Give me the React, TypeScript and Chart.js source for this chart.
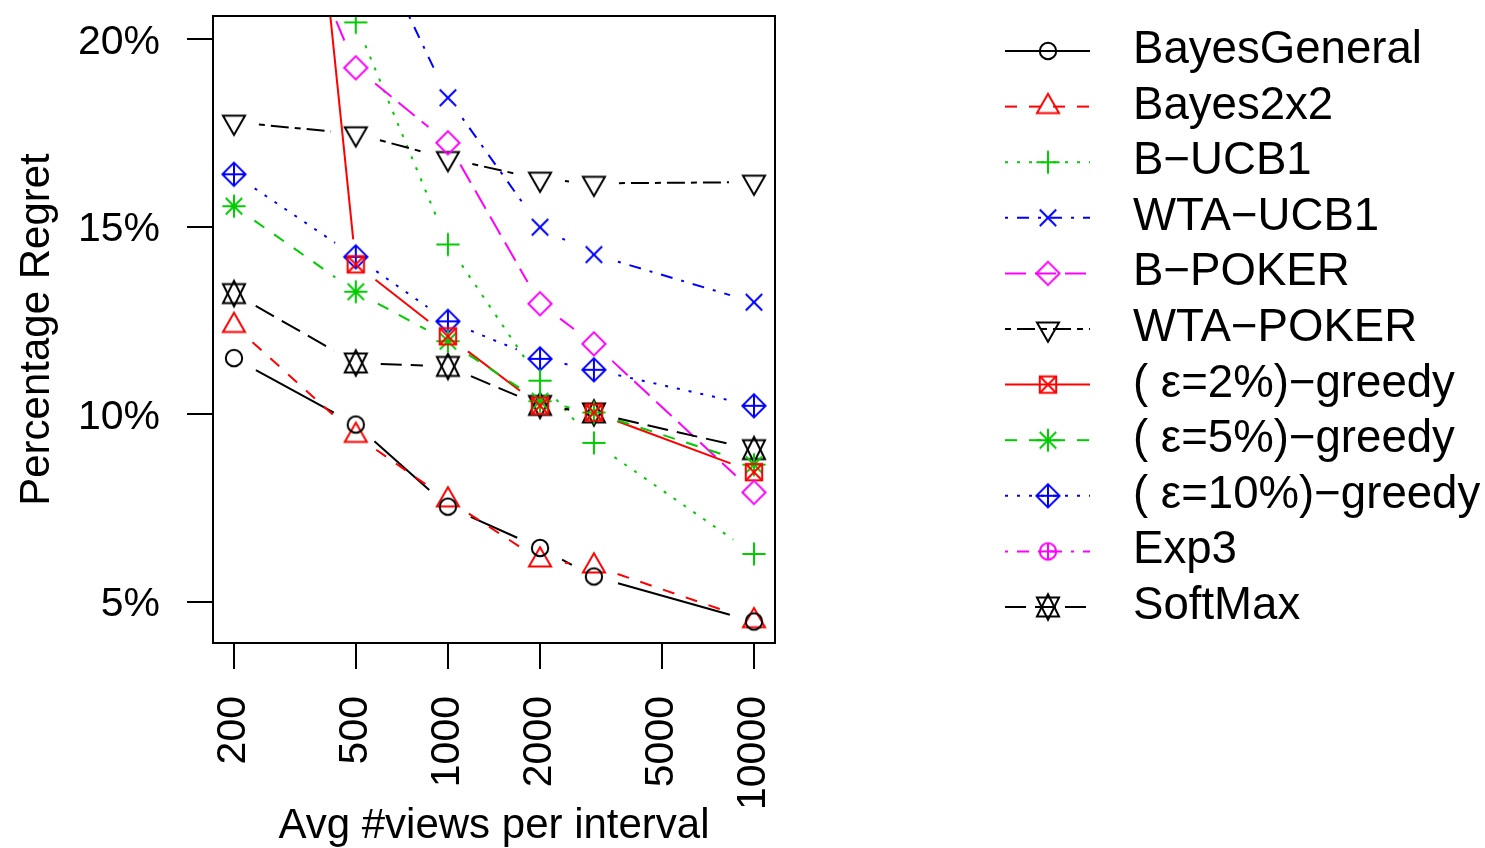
import React, { useEffect, useRef } from "react";
import { Chart, registerables } from "chart.js";

Chart.register(...registerables);

// ---------------- data ----------------
const views = [200, 500, 1000, 2000, 3000, 10000];
const xTickValues = [200, 500, 1000, 2000, 5000, 10000];
const yTickValues = [5, 10, 15, 20];

const seriesNames = [
  "BayesGeneral",
  "Bayes2x2",
  "B\u2212UCB1",
  "WTA\u2212UCB1",
  "B\u2212POKER",
  "WTA\u2212POKER",
  "( \u03b5=2%)\u2212greedy",
  "( \u03b5=5%)\u2212greedy",
  "( \u03b5=10%)\u2212greedy",
  "Exp3",
  "SoftMax",
];

const bayesGeneral = [11.5, 9.73, 7.54, 6.44, 5.68, 4.48];
const bayes2x2 = [12.37, 9.44, 7.72, 6.12, 5.96, 4.5];
const bUcb1 = [24, 20.45, 14.53, 10.9, 9.24, 6.28];
const wtaUcb1 = [26, 23.6, 18.44, 14.99, 14.26, 12.99];
const bPoker = [27, 19.24, 17.24, 12.95, 11.88, 7.92];
const wtaPoker = [17.79, 17.48, 16.82, 16.27, 16.16, 16.19];
const eps2 = [45.7, 14.0, 12.08, 10.23, 10.05, 8.46];
const eps5 = [15.55, 13.27, 11.95, 10.35, 10.05, 8.66];
const eps10 = [16.4, 14.2, 12.48, 11.48, 11.19, 10.23];
const exp3: (number | null)[] = [null, null, null, null, null, null];
const softMax = [13.22, 11.37, 11.28, 10.24, 10.04, 9.06];

const seriesValues = [
  bayesGeneral, bayes2x2, bUcb1, wtaUcb1, bPoker, wtaPoker,
  eps2, eps5, eps10, exp3, softMax,
];

// ---------------- styles ----------------
const BLACK = "#000000";
const RED = "#FF0000";
const GREEN = "#00CD00";
const BLUE = "#0000FF";
const MAGENTA = "#FF00FF";
const seriesColors = [BLACK, RED, GREEN, BLUE, MAGENTA, BLACK, RED, GREEN, BLUE, MAGENTA, BLACK];
const seriesShapes = [
  "circle", "triUp", "plus", "cross", "diamond", "triDown",
  "squareX", "asterisk", "diamondPlus", "circlePlus", "star",
];
const LTY: Record<string, number[]> = {
  solid: [],
  dashed: [12, 12],
  dotted: [3, 9],
  dotdash: [3, 9, 12, 9],
  longdash: [21, 9],
  twodash: [6, 6, 18, 6],
};
const seriesDash = [
  LTY.solid, LTY.dashed, LTY.dotted, LTY.dotdash, LTY.longdash, LTY.twodash,
  LTY.solid, LTY.dashed, LTY.dotted, LTY.dotdash, LTY.longdash,
];

const FONT = '"Liberation Sans", Arial, Helvetica, sans-serif';

function makeMarker(kind: string, color: string): HTMLCanvasElement {
  const S = 32;
  const c = document.createElement("canvas");
  c.width = S;
  c.height = S;
  const g = c.getContext("2d")!;
  g.translate(S / 2, S / 2);
  g.strokeStyle = color;
  g.lineWidth = 2;
  g.lineCap = "butt";
  const u = 8.2;
  const q = u * Math.SQRT2;
  const TRC0 = 1.55512030155621416073;
  const TRC1 = 1.34677368708859836060;
  const TRC2 = 0.77756015077810708036;
  const line = (x0: number, y0: number, x1: number, y1: number) => {
    g.beginPath(); g.moveTo(x0, y0); g.lineTo(x1, y1); g.stroke();
  };
  const circle = (r: number) => { g.beginPath(); g.arc(0, 0, r, 0, Math.PI * 2); g.stroke(); };
  const poly = (pts: number[][]) => {
    g.beginPath();
    g.moveTo(pts[0][0], pts[0][1]);
    for (let i = 1; i < pts.length; i++) g.lineTo(pts[i][0], pts[i][1]);
    g.closePath();
    g.stroke();
  };
  const plus = (h: number) => { line(-h, 0, h, 0); line(0, -h, 0, h); };
  const cross = (h: number) => { line(-h, -h, h, h); line(-h, h, h, -h); };
  const diamond = (h: number) => poly([[0, -h], [h, 0], [0, h], [-h, 0]]);
  const r = TRC0 * u, yc = TRC2 * u, xc = TRC1 * u;
  switch (kind) {
    case "circle": circle(u); break;
    case "triUp": poly([[0, -r], [xc, yc], [-xc, yc]]); break;
    case "triDown": poly([[0, r], [xc, -yc], [-xc, -yc]]); break;
    case "plus": plus(q); break;
    case "cross": cross(u); break;
    case "diamond": diamond(q); break;
    case "squareX": g.strokeRect(-u, -u, 2 * u, 2 * u); cross(u); break;
    case "asterisk": cross(u); plus(q); break;
    case "diamondPlus": diamond(q); plus(q); break;
    case "circlePlus": circle(u); plus(u); break;
    case "star": {
      const y2 = 0.5 * (yc + r);
      poly([[0, -r], [xc, y2], [-xc, y2]]);
      poly([[0, r], [xc, -y2], [-xc, -y2]]);
      break;
    }
  }
  return c;
}

const GAP = 25;

const rPlotPlugin = {
  id: "rPlot",
  beforeDatasetsDraw(chart: any) {
    const { ctx, chartArea } = chart;
    ctx.save();
    ctx.beginPath();
    ctx.rect(chartArea.left, chartArea.top, chartArea.right - chartArea.left, chartArea.bottom - chartArea.top);
    ctx.clip();
    chart.data.datasets.forEach((ds: any, i: number) => {
      const meta = chart.getDatasetMeta(i);
      const pts = meta.data;
      ctx.strokeStyle = seriesColors[i];
      ctx.lineWidth = 2;
      ctx.lineCap = "butt";
      for (let k = 0; k < pts.length - 1; k++) {
        const a = pts[k], b = pts[k + 1];
        if (!a || !b || a.skip || b.skip) continue;
        if (!isFinite(a.y) || !isFinite(b.y)) continue;
        const dx = b.x - a.x, dy = b.y - a.y;
        const d = Math.sqrt(dx * dx + dy * dy);
        if (d <= 2 * GAP) continue;
        const ux = dx / d, uy = dy / d;
        ctx.setLineDash(seriesDash[i]);
        ctx.lineDashOffset = 0;
        ctx.beginPath();
        ctx.moveTo(a.x + ux * GAP, a.y + uy * GAP);
        ctx.lineTo(b.x - ux * GAP, b.y - uy * GAP);
        ctx.stroke();
      }
    });
    ctx.restore();
  },
  afterDraw(chart: any) {
    const { ctx, chartArea } = chart;
    ctx.save();
    // plot box
    ctx.setLineDash([]);
    ctx.strokeStyle = "#000";
    ctx.lineWidth = 2;
    ctx.strokeRect(chartArea.left, chartArea.top, chartArea.right - chartArea.left, chartArea.bottom - chartArea.top);

    // legend
    const x0 = 1005, x1 = 1090, xm = 1048, xt = 1133;
    const rowTop = 51, rowStep = 55.6;
    chart.data.datasets.forEach((ds: any, i: number) => {
      const y = rowTop + i * rowStep;
      ctx.strokeStyle = seriesColors[i];
      ctx.lineWidth = 2;
      ctx.lineCap = "butt";
      ctx.setLineDash(seriesDash[i]);
      ctx.lineDashOffset = 0;
      ctx.beginPath();
      ctx.moveTo(x0, y);
      ctx.lineTo(x1, y);
      ctx.stroke();
      ctx.setLineDash([]);
      const img = ds.pointStyle as HTMLCanvasElement;
      ctx.drawImage(img, xm - img.width / 2, y - img.height / 2);
      ctx.fillStyle = "#000";
      ctx.font = `45.6px ${FONT}`;
      ctx.textAlign = "left";
      ctx.textBaseline = "alphabetic";
      ctx.fillText(ds.label, xt, y + 12);
    });
    ctx.restore();
  },
};

export default function App() {
  const canvasRef = useRef<HTMLCanvasElement | null>(null);

  useEffect(() => {
    document.body.style.margin = "0";
    const canvas = canvasRef.current;
    if (!canvas) return;

    const datasets = seriesNames.map((name, i) => ({
      label: name,
      data: seriesValues[i].map((v, k) => ({ x: views[k], y: v })),
      showLine: false,
      pointStyle: makeMarker(seriesShapes[i], seriesColors[i]),
      pointRadius: 12,
      pointHoverRadius: 12,
      borderColor: seriesColors[i],
      backgroundColor: seriesColors[i],
      clip: 0,
    }));

    const axisGrid = {
      display: true,
      drawOnChartArea: false,
      drawTicks: true,
      tickLength: 26,
      lineWidth: 2,
      color: "#000",
    };

    const chart = new Chart(canvas, {
      type: "line",
      data: { datasets },
      options: {
        responsive: false,
        animation: false,
        devicePixelRatio: 1,
        events: [],
        layout: { padding: { top: 16, right: 710, left: 0, bottom: 0 } },
        plugins: {
          legend: { display: false },
          tooltip: { enabled: false },
          title: { display: false },
        },
        scales: {
          x: {
            type: "logarithmic",
            min: 170.8,
            max: 11715,
            afterBuildTicks: (s: any) => {
              s.ticks = xTickValues.map((v) => ({ value: v }));
            },
            afterFit: (s: any) => {
              s.height = 205;
              s.paddingLeft = 0;
              s.paddingRight = 0;
              s.paddingTop = 0;
              s.paddingBottom = 0;
            },
            ticks: {
              autoSkip: false,
              minRotation: 90,
              maxRotation: 90,
              padding: 27,
              color: "#000",
              font: { family: FONT, size: 41 },
              callback: (v: any) => String(v),
            },
            grid: axisGrid,
            border: { display: false },
            title: {
              display: true,
              text: "Avg #views per interval",
              color: "#000",
              font: { family: FONT, size: 42 },
              padding: { top: 0, bottom: -4 },
            },
          },
          y: {
            type: "linear",
            min: 3.906,
            max: 20.62,
            afterBuildTicks: (s: any) => {
              s.ticks = yTickValues.map((v) => ({ value: v }));
            },
            afterFit: (s: any) => {
              s.width = 213;
              s.paddingLeft = 0;
              s.paddingRight = 0;
              s.paddingTop = 0;
              s.paddingBottom = 0;
            },
            ticks: {
              autoSkip: false,
              padding: 27,
              labelOffset: 3,
              color: "#000",
              font: { family: FONT, size: 41 },
              callback: (v: any) => `${v}%`,
            },
            grid: axisGrid,
            border: { display: false },
            title: {
              display: true,
              text: "Percentage Regret",
              color: "#000",
              font: { family: FONT, size: 42 },
              padding: { top: 12, bottom: 0 },
            },
          },
        },
      } as any,
      plugins: [rPlotPlugin],
    });

    return () => {
      chart.destroy();
    };
  }, []);

  return (
    <div style={{ width: 1485, height: 848, background: "#fff" }}>
      <canvas ref={canvasRef} width={1485} height={848} style={{ display: "block" }} />
    </div>
  );
}
